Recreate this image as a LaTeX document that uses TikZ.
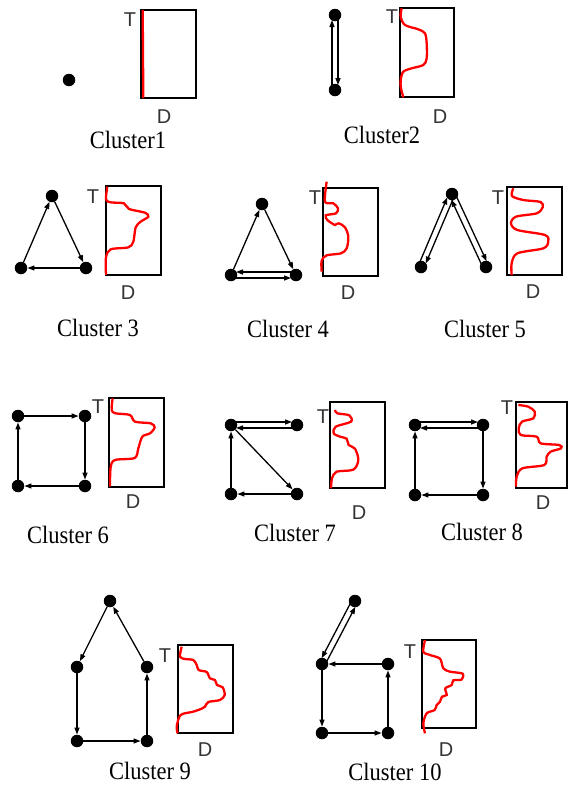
\documentclass[tikz,border=0pt]{standalone}
\usepackage{fontspec}
\setmainfont{Liberation Serif}
\newfontfamily\arialf{Liberation Sans}
\usetikzlibrary{arrows.meta,calc}
\newcommand\clab[1]{\scalebox{0.9}[1]{#1}}
\newcommand\dpairL[2]{%
  \draw[edg,shorten <=5pt,shorten >=5pt] ($(#1)!3pt!90:(#2)$) -- ($(#2)!3pt!-90:(#1)$);
  \draw[edg,shorten <=5pt,shorten >=5pt] ($(#2)!3pt!90:(#1)$) -- ($(#1)!3pt!-90:(#2)$);}
\newcommand\dpairR[2]{%
  \draw[edg,shorten <=5pt,shorten >=5pt] ($(#1)!3pt!-90:(#2)$) -- ($(#2)!3pt!90:(#1)$);
  \draw[edg,shorten <=5pt,shorten >=5pt] ($(#2)!3pt!-90:(#1)$) -- ($(#1)!3pt!90:(#2)$);}
\begin{document}
\begin{tikzpicture}[x=1pt,y=-1pt,
  dot/.style={circle,fill=black,inner sep=0pt,minimum size=12.5pt},
  edg/.style={line width=1.3pt,-{Triangle[length=7pt,width=5pt]}},
  frame/.style={line width=2.3pt},
  curve/.style={red,line width=2.3pt},
  axl/.style={font=\arialf\fontsize{20}{22}\selectfont,inner sep=0pt,text=black!80},
  cluslab/.style={font=\fontsize{25}{30}\selectfont,inner sep=0pt}]
\useasboundingbox (0,0) rectangle (569,785);
% ---------- Cluster 1
\node[dot] (c1a) at (69,80) {};
\draw[frame] (141,10) rectangle (196,98);
\draw[curve] (142.7,10) -- (143.3,98);
\node[axl] (c1T) at (130,20) {T};
\node[axl] (c1D) at (164,117) {D};
\node[cluslab] (c1L) at (128,140) {\clab{Cluster1}};
% ---------- Cluster 2
\node[dot] (c2a) at (335,15) {};
\node[dot] (c2b) at (335,90) {};
\dpairL{c2a}{c2b}
\draw[frame] (400,8) rectangle (454,97);
\begin{scope}[shift={(290,0)},scale=1/3]
\draw[curve] plot[smooth,tension=0.5] coordinates {(335,25)(332,50)(345,75)(385,88)(405,100)(410,130)(410,175)(400,195)(365,205)(340,215)(332,240)(333,265)(340,292)};
\end{scope}
\node[axl] (c2T) at (392,17) {T};
\node[axl] (c2D) at (440,117) {D};
\node[cluslab] (c2L) at (382,135) {\clab{Cluster2}};
% ---------- Cluster 3
\node[dot] (c3t) at (52,196) {};
\node[dot] (c3l) at (21,268) {};
\node[dot] (c3r) at (86,268) {};
\draw[edg] (c3l) -- (c3t);
\draw[edg] (c3t) -- (c3r);
\draw[edg] (c3r) -- (c3l);
\draw[frame] (106,186) rectangle (161,275);
\begin{scope}[shift={(0,170)},scale=1/3]
\draw[curve] plot[smooth,tension=0.5] coordinates {(322,50)(318,88)(332,97)(372,100)(387,117)(435,128)(445,140)(422,155)(407,172)(400,215)(385,232)(332,238)(318,262)(318,315)};
\end{scope}
\node[axl] (c3T) at (93,197) {T};
\node[axl] (c3D) at (128,293) {D};
\node[cluslab] (c3L) at (98,328) {\clab{Cluster 3}};
% ---------- Cluster 4
\node[dot] (c4t) at (262,204) {};
\node[dot] (c4l) at (231,275) {};
\node[dot] (c4r) at (296,275) {};
\draw[edg] (c4l) -- (c4t);
\draw[edg] (c4t) -- (c4r);
\dpairR{c4l}{c4r}
\draw[frame] (323,188) rectangle (378,276);
\begin{scope}[shift={(200,170)},scale=1/3]
\draw[curve] plot[smooth,tension=0.5] coordinates {(380,35)(375,95)(400,100)(414,115)(408,130)(377,136)(382,150)(396,160)(405,165)(416,160)(435,172)(445,200)(440,235)(423,250)(380,256)(365,272)(365,305)};
\end{scope}
\node[axl] (c4T) at (315,198) {T};
\node[axl] (c4D) at (348,293) {D};
\node[cluslab] (c4L) at (288,329) {\clab{Cluster 4}};
% ---------- Cluster 5
\node[dot] (c5t) at (452,194) {};
\node[dot] (c5l) at (421,267) {};
\node[dot] (c5r) at (486,267) {};
\dpairL{c5t}{c5l}
\dpairL{c5t}{c5r}
\draw[frame] (507,187) rectangle (562,275);
\begin{scope}[shift={(390,170)},scale=1/3]
\draw[curve] plot[smooth,tension=0.5] coordinates {(370,55)(366,78)(400,90)(452,96)(458,112)(440,130)(378,140)(363,160)(382,180)(465,195)(475,215)(460,235)(382,250)(365,280)(365,315)};
\end{scope}
\node[axl] (c5T) at (498,198) {T};
\node[axl] (c5D) at (533,292) {D};
\node[cluslab] (c5L) at (485,329) {\clab{Cluster 5}};
% ---------- Cluster 6
\node[dot] (c6a) at (18,416) {};
\node[dot] (c6b) at (85,416) {};
\node[dot] (c6c) at (18,486) {};
\node[dot] (c6d) at (85,486) {};
\draw[edg] (c6a) -- (c6b);
\draw[edg] (c6b) -- (c6d);
\draw[edg] (c6d) -- (c6c);
\draw[edg] (c6c) -- (c6a);
\draw[frame] (109,398) rectangle (164,487);
\begin{scope}[shift={(0,390)},scale=1/3]
\draw[curve] plot[smooth,tension=0.5] coordinates {(338,25)(335,60)(347,70)(390,75)(405,95)(452,100)(464,112)(450,130)(427,140)(415,175)(404,204)(345,210)(332,232)(330,290)};
\end{scope}
\node[axl] (c6T) at (98,407) {T};
\node[axl] (c6D) at (133,502) {D};
\node[cluslab] (c6L) at (68,535) {\clab{Cluster 6}};
% ---------- Cluster 7
\node[dot] (c7a) at (231,425) {};
\node[dot] (c7b) at (297,425) {};
\node[dot] (c7c) at (231,494) {};
\node[dot] (c7d) at (297,494) {};
\dpairL{c7a}{c7b}
\draw[edg] (c7a) -- (c7d);
\draw[edg] (c7d) -- (c7c);
\draw[edg] (c7c) -- (c7a);
\draw[frame] (330,402) rectangle (385,488);
\begin{scope}[shift={(200,390)},scale=1/3]
\draw[curve] plot[smooth,tension=0.5] coordinates {(405,60)(412,70)(448,76)(453,95)(407,110)(401,130)(420,140)(440,146)(446,165)(465,176)(475,210)(460,239)(410,245)(396,265)(393,295)};
\end{scope}
\node[axl] (c7T) at (323,417) {T};
\node[axl] (c7D) at (359,513) {D};
\node[cluslab] (c7L) at (295,533) {\clab{Cluster 7}};
% ---------- Cluster 8
\node[dot] (c8a) at (415,425) {};
\node[dot] (c8b) at (483,425) {};
\node[dot] (c8c) at (415,495) {};
\node[dot] (c8d) at (483,495) {};
\dpairL{c8a}{c8b}
\draw[edg] (c8b) -- (c8d);
\draw[edg] (c8d) -- (c8c);
\draw[edg] (c8c) -- (c8a);
\draw[frame] (516,402) rectangle (567,488);
\begin{scope}[shift={(390,390)},scale=1/3]
\draw[curve] plot[smooth,tension=0.5] coordinates {(385,45)(415,50)(434,65)(430,85)(396,95)(386,115)(392,135)(440,140)(452,160)(508,165)(513,175)(482,185)(470,200)(463,225)(397,235)(380,260)(378,290)};
\end{scope}
\node[axl] (c8T) at (507,408) {T};
\node[axl] (c8D) at (543,503) {D};
\node[cluslab] (c8L) at (482,532) {\clab{Cluster 8}};
% ---------- Cluster 9
\node[dot] (c9t) at (110,601) {};
\node[dot] (c9a) at (77,667) {};
\node[dot] (c9b) at (147,667) {};
\node[dot] (c9c) at (77,741) {};
\node[dot] (c9d) at (147,741) {};
\draw[edg] (c9t) -- (c9a);
\draw[edg] (c9a) -- (c9c);
\draw[edg] (c9c) -- (c9d);
\draw[edg] (c9d) -- (c9b);
\draw[edg] (c9b) -- (c9t);
\draw[frame] (178,645) rectangle (233,733);
\begin{scope}[shift={(50,580)},scale=1/3]
\draw[curve] plot[smooth,tension=0.5] coordinates {(395,200)(390,230)(405,237)(430,240)(440,255)(446,270)(470,276)(480,295)(495,300)(501,315)(518,322)(524,345)(510,360)(475,366)(465,380)(455,386)(430,395)(392,405)(380,440)(383,460)};
\end{scope}
\node[axl] (c9T) at (165,656) {T};
\node[axl] (c9D) at (205,750) {D};
\node[cluslab] (c9L) at (150,771) {\clab{Cluster 9}};
% ---------- Cluster 10
\node[dot] (c10t) at (355,601) {};
\node[dot] (c10a) at (322,664) {};
\node[dot] (c10b) at (388,664) {};
\node[dot] (c10c) at (322,733) {};
\node[dot] (c10d) at (388,733) {};
\dpairR{c10t}{c10a}
\draw[edg] (c10b) -- (c10a);
\draw[edg] (c10a) -- (c10c);
\draw[edg] (c10c) -- (c10d);
\draw[edg] (c10d) -- (c10b);
\draw[frame] (422,640) rectangle (476,728);
\begin{scope}[shift={(290,580)},scale=1/3]
\draw[curve] plot[smooth,tension=0.5] coordinates {(405,180)(400,215)(420,225)(450,236)(460,265)(480,275)(518,281)(514,299)(490,301)(485,315)(466,325)(470,345)(456,350)(450,365)(440,375)(434,390)(410,400)(400,430)(405,460)};
\end{scope}
\node[axl] (c10T) at (410,652) {T};
\node[axl] (c10D) at (446,750) {D};
\node[cluslab] (c10L) at (395,772) {\clab{Cluster 10}};
\end{tikzpicture}
\end{document}
